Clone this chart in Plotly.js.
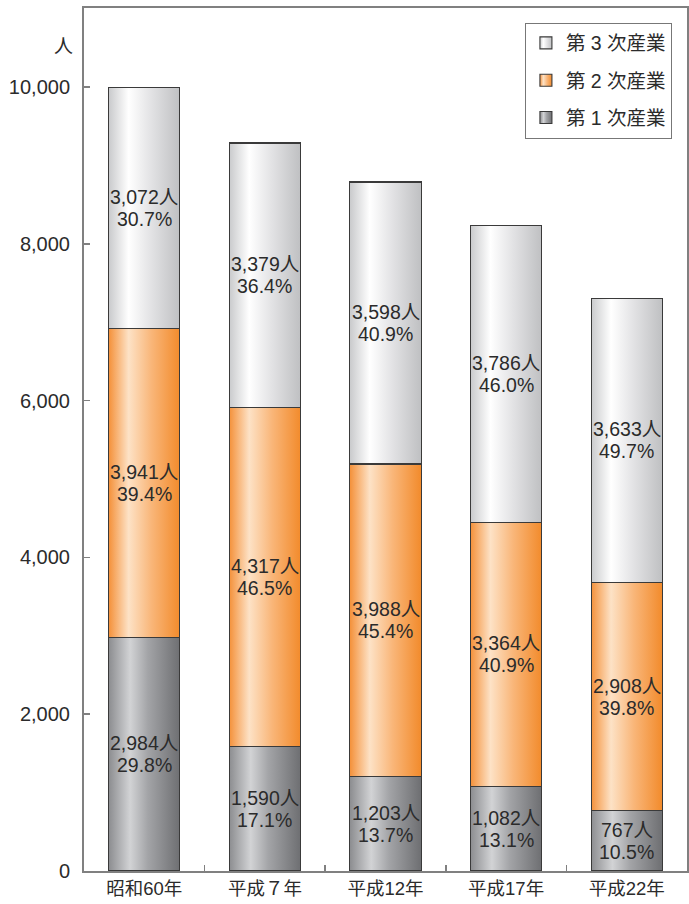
<!DOCTYPE html>
<html>
<head>
<meta charset="utf-8">
<script src="https://cdn.plot.ly/plotly-3.0.1.min.js"></script>
<style>
html,body{margin:0;padding:0;background:#fff;}
#chart{width:689px;height:904px;}
</style>
</head>
<body>
<div id="chart"></div>
<script>
const categories = ["昭和60年", "平成７年", "平成12年", "平成17年", "平成22年"];
const primary   = [2984, 1590, 1203, 1082, 767];
const secondary = [3941, 4317, 3988, 3364, 2908];
const tertiary  = [3072, 3379, 3598, 3786, 3633];
const primaryPct   = ["29.8", "17.1", "13.7", "13.1", "10.5"];
const secondaryPct = ["39.4", "46.5", "45.4", "40.9", "39.8"];
const tertiaryPct  = ["30.7", "36.4", "40.9", "46.0", "49.7"];
const seriesNames = ["第 1 次産業", "第 2 次産業", "第 3 次産業"];
const yTicks = [0, 2000, 4000, 6000, 8000, 10000];

const FONT = "'Liberation Sans', 'Noto Sans CJK JP', Arial, sans-serif";
const TXT = "#2b2b2b";
const lineStyle = {color: "#3a3a3a", width: 1.1};

const series = [
  {vals: primary, pct: primaryPct, color: "#a2a3a6", rank: 3},
  {vals: secondary, pct: secondaryPct, color: "#f7a55a", rank: 2},
  {vals: tertiary, pct: tertiaryPct, color: "#e4e4e6", rank: 1}
];

const data = series.map((s, i) => ({
  type: "bar",
  x: categories,
  y: s.vals,
  name: seriesNames[i],
  legendgroup: "g" + i,
  legendrank: s.rank,
  marker: {color: s.color, line: lineStyle},
  width: 0.59,
  hoverinfo: "skip"
}));

const fmt = n => n.toLocaleString("en-US");
const annFont = {family: FONT, size: 19.5, color: TXT};
const annotations = [];
categories.forEach((c, j) => {
  let base = 0;
  series.forEach(s => {
    const v = s.vals[j];
    const mid = base + v / 2;
    annotations.push({
      x: c, y: mid, xref: "x", yref: "y", yshift: 11,
      text: fmt(v) + "人", showarrow: false, font: annFont
    });
    annotations.push({
      x: c, y: mid, xref: "x", yref: "y", yshift: -11,
      text: s.pct[j] + "%", showarrow: false, font: annFont
    });
    base += v;
  });
});
annotations.push({
  x: 0, y: 1, xref: "paper", yref: "paper",
  xanchor: "center", yanchor: "middle",
  xshift: -21, yshift: -38,
  text: "人", showarrow: false,
  font: {family: FONT, size: 19, color: TXT}
});

const layout = {
  width: 689, height: 904,
  margin: {l: 84, r: 2, t: 8, b: 33, pad: 0},
  paper_bgcolor: "#fff", plot_bgcolor: "#fff",
  barmode: "stack",
  font: {family: FONT, size: 19, color: TXT},
  showlegend: true,
  legend: {
    x: 0.975, y: 0.983, xanchor: "right", yanchor: "top",
    traceorder: "grouped",
    tracegroupgap: 9,
    bordercolor: "#777", borderwidth: 1, bgcolor: "#fff",
    font: {family: FONT, size: 19.5, color: TXT}
  },
  xaxis: {
    type: "category",
    showline: true, linecolor: "#808080", linewidth: 2, mirror: true,
    ticks: "inside", tickson: "boundaries", ticklen: 6, tickcolor: "#808080", tickwidth: 1.5,
    showgrid: false,
    tickfont: {family: FONT, size: 18.5, color: TXT},
    fixedrange: true
  },
  yaxis: {
    range: [0, 11008],
    tickvals: yTicks,
    ticktext: yTicks.map(fmt),
    showline: true, linecolor: "#808080", linewidth: 2, mirror: true,
    ticks: "inside", ticklen: 6, tickcolor: "#808080", tickwidth: 1.5,
    showgrid: false, zeroline: false,
    ticklabelstandoff: 8,
    tickfont: {family: FONT, size: 20, color: TXT},
    fixedrange: true
  },
  annotations: annotations
};

const gradStops = [
  [["0", "#8c8d90"], ["0.3", "#d2d3d5"], ["0.55", "#a3a4a7"], ["1", "#6e6f72"]],
  [["0", "#f4913a"], ["0.28", "#fde2c6"], ["0.6", "#f9b679"], ["1", "#f28b2c"]],
  [["0", "#c9cacc"], ["0.28", "#ffffff"], ["0.6", "#e2e2e4"], ["1", "#bfc0c2"]]
];

function applyGradients(gd) {
  const svg = gd.querySelector(".main-svg");
  const NS = "http://www.w3.org/2000/svg";
  let defs = svg.querySelector("defs");
  if (!defs) { defs = document.createElementNS(NS, "defs"); svg.insertBefore(defs, svg.firstChild); }
  gradStops.forEach((stops, i) => {
    if (document.getElementById("bgrad" + i)) return;
    const lg = document.createElementNS(NS, "linearGradient");
    lg.setAttribute("id", "bgrad" + i);
    lg.setAttribute("x1", "0"); lg.setAttribute("y1", "0");
    lg.setAttribute("x2", "1"); lg.setAttribute("y2", "0");
    stops.forEach(([o, c]) => {
      const st = document.createElementNS(NS, "stop");
      st.setAttribute("offset", o); st.setAttribute("stop-color", c);
      lg.appendChild(st);
    });
    defs.appendChild(lg);
  });
  const traces = gd.querySelectorAll(".barlayer .trace");
  traces.forEach((t, i) => {
    t.querySelectorAll("path").forEach(p => { p.style.fill = "url(#bgrad" + i + ")"; });
  });
  const legendTraces = gd.querySelectorAll(".legend .traces");
  legendTraces.forEach(lt => {
    const name = lt.querySelector(".legendtext").textContent;
    const idx = seriesNames.indexOf(name);
    lt.querySelectorAll(".legendpoints path").forEach(p => {
      if (idx >= 0) p.style.fill = "url(#bgrad" + idx + ")";
    });
  });
}

const gd = document.getElementById("chart");
Plotly.newPlot(gd, data, layout, {displayModeBar: false, staticPlot: true}).then(() => applyGradients(gd));
</script>
</body>
</html>
